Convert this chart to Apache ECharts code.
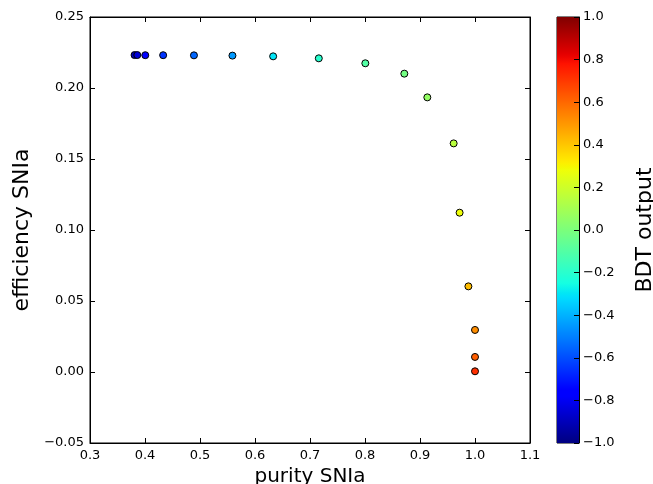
<!DOCTYPE html>
<html>
<head>
<meta charset="utf-8">
<script src="https://cdn.jsdelivr.net/npm/echarts@6/dist/echarts.min.js"></script>
<style>html,body{margin:0;padding:0;background:#fff}#c{width:653px;height:484px}</style>
</head>
<body>
<div id="c"></div>
<script>
// ---- data ----
var purity = [0.381, 0.386, 0.4005, 0.433, 0.489, 0.559, 0.633, 0.716, 0.8006, 0.8715, 0.9133, 0.9612, 0.972, 0.988, 1.0, 1.0, 1.0];
var efficiency = [0.2232, 0.2232, 0.2231, 0.2231, 0.2230, 0.2228, 0.2223, 0.2209, 0.2174, 0.2101, 0.1934, 0.1610, 0.1122, 0.0603, 0.0296, 0.0106, 0.0005];
var bdt = [-0.9, -0.85, -0.75, -0.65, -0.55, -0.45, -0.3, -0.2, -0.1, -0.02, 0.06, 0.15, 0.28, 0.42, 0.52, 0.62, 0.72];
var xTicks = {min: 0.3, max: 1.1, step: 0.1};
var yTicks = {min: -0.05, max: 0.25, step: 0.05};
var cbTicks = {min: -1, max: 1, step: 0.2};
var xTitle = 'purity SNIa';
var yTitle = 'efficiency SNIa';
var cbTitle = 'BDT output';

// matplotlib "jet" colormap definition
function seg(pts, x) {
  for (var i = 1; i < pts.length; i++) {
    if (x <= pts[i][0]) {
      var a = pts[i - 1], b = pts[i];
      return a[1] + (b[1] - a[1]) * (x - a[0]) / (b[0] - a[0]);
    }
  }
  return pts[pts.length - 1][1];
}
var R = [[0, 0], [0.35, 0], [0.66, 1], [0.89, 1], [1, 0.5]];
var G = [[0, 0], [0.125, 0], [0.375, 1], [0.64, 1], [0.91, 0], [1, 0]];
var B = [[0, 0.5], [0.11, 1], [0.34, 1], [0.65, 0], [1, 0]];
function jet(x) {
  var r = Math.round(255 * seg(R, x)), g = Math.round(255 * seg(G, x)), b = Math.round(255 * seg(B, x));
  return 'rgb(' + r + ',' + g + ',' + b + ')';
}
var N = 64, jetColors = [];
for (var i = 0; i <= N; i++) jetColors.push(jet(i / N));
function stops(f0, f1) {
  var s = [];
  for (var i = 0; i <= N; i++) {
    var o = i / N;
    s.push({offset: o, color: jet(f0 + (f1 - f0) * o)});
  }
  return s;
}

var pts = purity.map(function (p, i) { return [p, efficiency[i], bdt[i]]; });
var minus = function (s) { return s.replace('-', '\u2212'); };
var FONT = 'DejaVu Sans';
var lbl = {color: '#000', fontFamily: FONT, fontSize: 13};
var line = {show: true, onZero: false, lineStyle: {color: '#000', width: 1}};
var tick = {show: true, inside: true, length: 5, lineStyle: {color: '#000'}};

var chart = echarts.init(document.getElementById('c'), null, {renderer: 'canvas'});
chart.setOption({
  animation: false,
  backgroundColor: '#fff',
  textStyle: {fontFamily: FONT},
  grid: [
    {left: 90, top: 17, width: 440, height: 426, show: true, borderColor: '#000', borderWidth: 1, backgroundColor: '#fff', containLabel: false, outerBoundsMode: 'none'},
    {left: 557, top: 17, width: 22, height: 426, show: true, borderColor: '#000', borderWidth: 1, containLabel: false, outerBoundsMode: 'none'}
  ],
  xAxis: [
    {type: 'value', gridIndex: 0, min: xTicks.min, max: xTicks.max, interval: xTicks.step,
     name: xTitle, nameLocation: 'middle', nameGap: 23, nameTextStyle: {color: '#000', fontSize: 20, fontFamily: FONT},
     axisLine: line, axisTick: tick,
     axisLabel: Object.assign({margin: 6, formatter: function (v) { return v.toFixed(1); }}, lbl), splitLine: {show: false}},
    {type: 'value', gridIndex: 0, position: 'top', min: xTicks.min, max: xTicks.max, interval: xTicks.step,
     axisLine: line, axisTick: tick, axisLabel: {show: false}, splitLine: {show: false}},
    {type: 'category', gridIndex: 1, data: ['cb'], show: false}
  ],
  yAxis: [
    {type: 'value', gridIndex: 0, min: yTicks.min, max: yTicks.max, interval: yTicks.step,
     name: yTitle, nameLocation: 'middle', nameGap: 55, nameRotate: 90, nameTextStyle: {color: '#000', fontSize: 22, fontFamily: FONT},
     axisLine: line, axisTick: tick,
     axisLabel: Object.assign({margin: 6, formatter: function (v) { return minus(v.toFixed(2)); }}, lbl), splitLine: {show: false}},
    {type: 'value', gridIndex: 0, position: 'right', min: yTicks.min, max: yTicks.max, interval: yTicks.step,
     axisLine: line, axisTick: tick, axisLabel: {show: false}, splitLine: {show: false}},
    {type: 'value', gridIndex: 1, position: 'right', min: cbTicks.min, max: cbTicks.max, interval: cbTicks.step,
     name: cbTitle, nameLocation: 'middle', nameGap: 55, nameRotate: 90, nameTextStyle: {color: '#000', fontSize: 22, fontFamily: FONT},
     axisLine: line, axisTick: tick,
     axisLabel: Object.assign({margin: 4, formatter: function (v) { return minus(v.toFixed(1)); }}, lbl), splitLine: {show: false}, z: 10}
  ],
  visualMap: {show: false, type: 'continuous', seriesIndex: 0, dimension: 2, min: cbTicks.min, max: cbTicks.max, inRange: {color: jetColors}},
  series: [
    {type: 'scatter', xAxisIndex: 0, yAxisIndex: 0, data: pts, symbol: 'circle', symbolSize: 7,
     itemStyle: {borderColor: '#000', borderWidth: 1, opacity: 1}, z: 5},
    {type: 'bar', xAxisIndex: 2, yAxisIndex: 2, data: [cbTicks.max], barWidth: '100%', barGap: '-100%',
     itemStyle: {color: new echarts.graphic.LinearGradient(0, 0, 0, 1, stops(1, 0.5))}, silent: true, z: 1},
    {type: 'bar', xAxisIndex: 2, yAxisIndex: 2, data: [cbTicks.min], barWidth: '100%', barGap: '-100%',
     itemStyle: {color: new echarts.graphic.LinearGradient(0, 0, 0, 1, stops(0.5, 0))}, silent: true, z: 1}
  ]
});
</script>
</body>
</html>
